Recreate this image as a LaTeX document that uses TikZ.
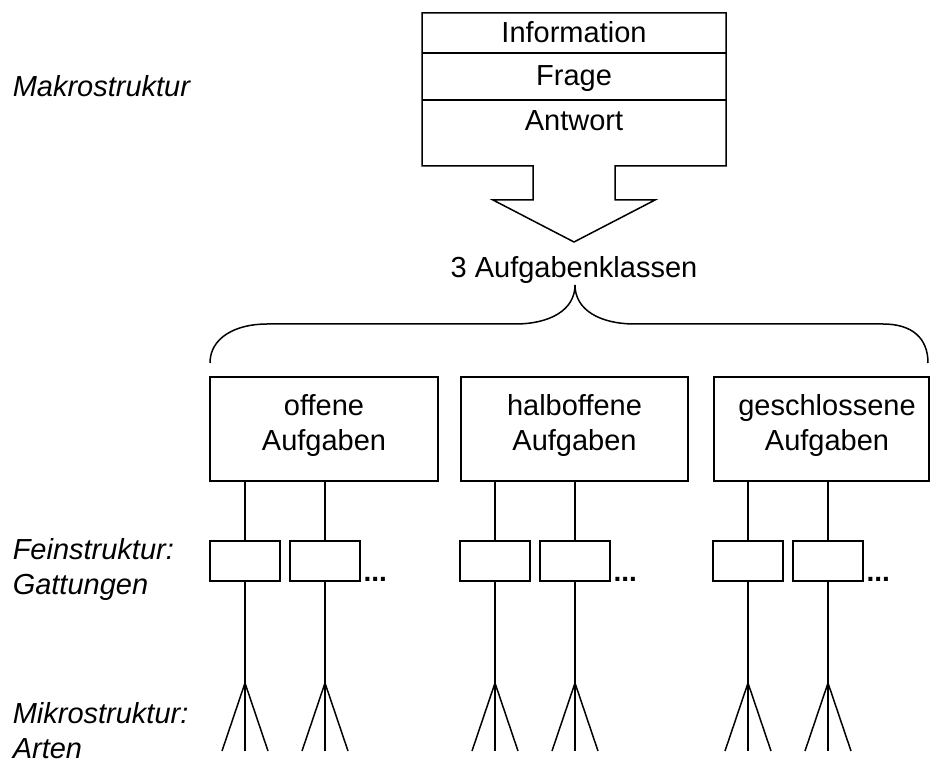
\documentclass[tikz,border=0pt]{standalone}
\usepackage{fontspec}
\setmainfont{Liberation Sans}
\begin{document}
\begin{tikzpicture}[x=1pt,y=-1pt,line width=1.5pt,
  lbl/.style={font=\fontsize{29}{35}\selectfont,inner sep=0pt,anchor=base},
  twoline/.style={font=\fontsize{29}{35}\selectfont,inner sep=0pt,align=center},
  side/.style={font=\fontsize{29}{35}\selectfont\itshape,inner sep=0pt,align=left},
  bigbox/.style={draw,minimum height=104pt,inner sep=0pt},
  smallbox/.style={draw,minimum width=70pt,minimum height=40pt,inner sep=0pt},
  dots/.style={font=\fontsize{28}{35}\selectfont\bfseries,inner sep=0pt,anchor=base west}]
\useasboundingbox (0,0) rectangle (930,767);
\clip (0,0) rectangle (930,767);

% macro structure: three-row box ending in a block arrow
\draw[line join=miter] (422,13) -- (726,13) -- (726,166) -- (615,166) -- (615,200)
  -- (655,200) -- (574,242) -- (493,200) -- (533,200) -- (533,166) -- (422,166) -- cycle;
\draw (422,53) -- (726,53);
\draw (422,100) -- (726,100);
\node[lbl] (info) at (574,43) {Information};
\node[lbl] (frage) at (574,86) {Frage};
\node[lbl] (antw) at (574,131) {Antwort};

\node[lbl] (klassen) at (574,278) {3 Aufgabenklassen};

% curly brace over the three classes
\draw (210,363) .. controls (210,338) and (235,324) .. (267,324) -- (515,324)
  .. controls (550,324) and (575,310) .. (575,285)
  .. controls (575,310) and (600,324) .. (635,324) -- (883,324)
  .. controls (912,324) and (928,338) .. (928,363);

% task classes
\node[bigbox,minimum width=228pt] (offen) at (324,429) {};
\node[bigbox,minimum width=227pt] (halb) at (574.5,429) {};
\node[bigbox,minimum width=215pt] (geschl) at (821.5,429) {};
\node[twoline] (toffen) at (324,426) {offene\\Aufgaben};
\node[twoline] (thalb) at (574.5,426) {halboffene\\Aufgaben};
\node[twoline] (tgeschl) at (827,426) {geschlossene\\Aufgaben};

% genres and kinds below each class
\foreach \i/\x/\b in {1/245/offen,2/325/offen,3/495/halb,4/575/halb,5/748/geschl,6/828/geschl}{
  \node[smallbox] (s\i) at (\x,561) {};
  \coordinate (f\i) at (\x,683);
  \coordinate (la\i) at (\x-23,751);
  \coordinate (lb\i) at (\x,751);
  \coordinate (lc\i) at (\x+23,751);
  \draw (s\i.north |- \b.south) -- (s\i.north);
  \draw (s\i.south) -- (f\i);
  \draw (f\i) -- (la\i);
  \draw (f\i) -- (lb\i);
  \draw (f\i) -- (lc\i);
}
\node[dots] (d1) at ([xshift=2pt]s2.south east) {...};
\node[dots] (d2) at ([xshift=2pt]s4.south east) {...};
\node[dots] (d3) at ([xshift=2pt]s6.south east) {...};

% level labels
\node[side,anchor=base west] (makro) at (12,97) {Makrostruktur};
\node[side,anchor=west] (fein) at (12,570) {Feinstruktur:\\Gattungen};
\node[side,anchor=west] (mikro) at (12,731) {Mikrostruktur:\\Arten};
\end{tikzpicture}
\end{document}
